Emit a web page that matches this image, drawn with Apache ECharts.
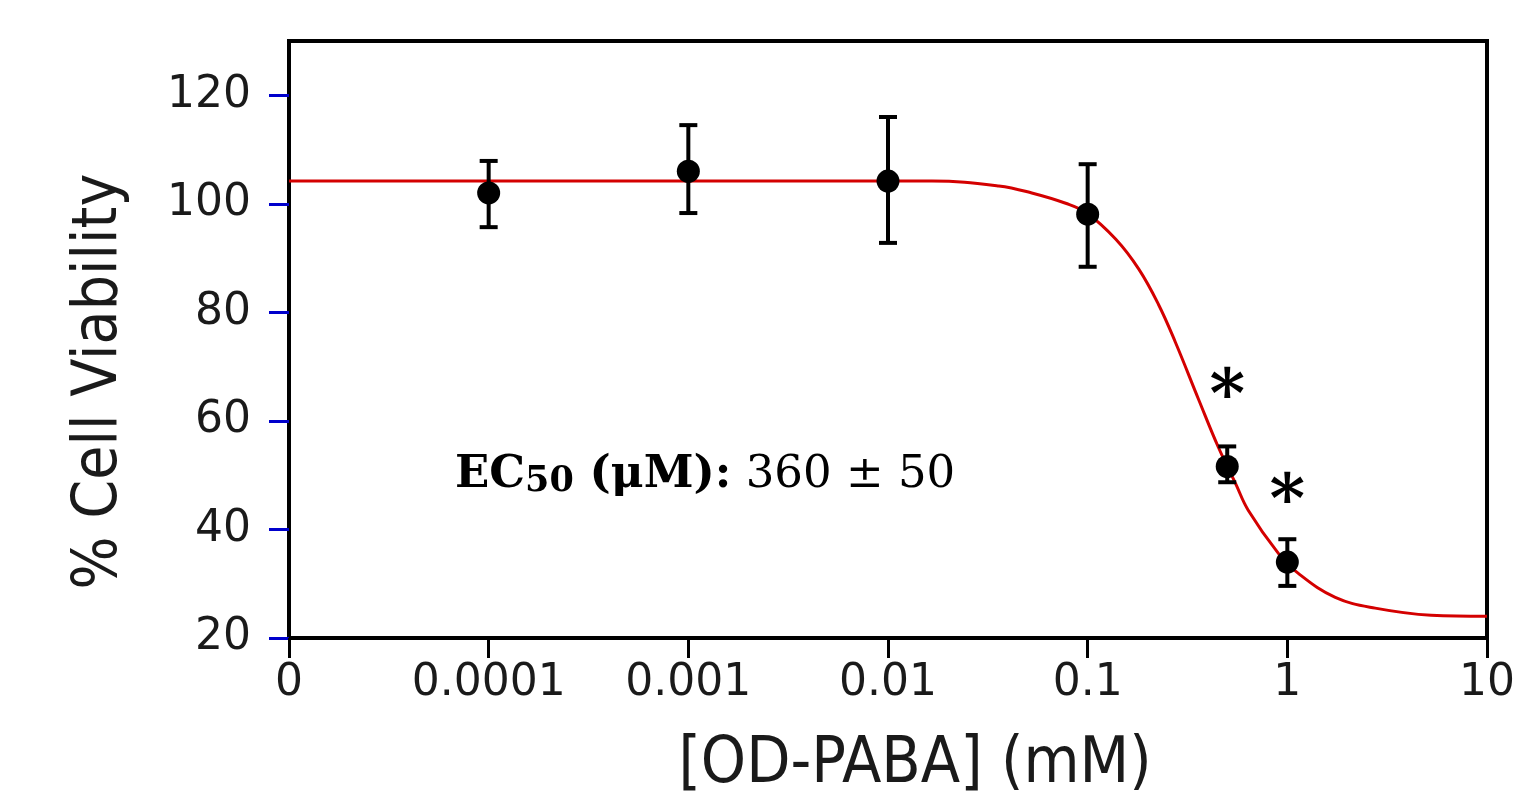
<!DOCTYPE html>
<html>
<head>
<meta charset="utf-8">
<script src="https://cdn.jsdelivr.net/npm/echarts@6/dist/echarts.min.js"></script>
<style>html,body{margin:0;padding:0;background:#fff;}#c{width:1521px;height:797px;}</style>
</head>
<body>
<div id="c"></div>
<script>
// ---- data ----
const xTickValues = [1e-5, 1e-4, 1e-3, 1e-2, 1e-1, 1, 10];
const xTickLabels = ['0', '0.0001', '0.001', '0.01', '0.1', '1', '10'];
const yTickValues = [20, 40, 60, 80, 100, 120];

const concentrations = [0.0001, 0.001, 0.01, 0.1, 0.5, 1];
const viability      = [102.0, 106.0, 104.2, 98.1, 51.6, 34.0];
const errLow         = [95.7, 98.3, 92.8, 88.4, 48.7, 29.6];
const errHigh        = [107.9, 114.5, 116.0, 107.3, 55.3, 38.2];

const fitX = [1e-5, 0.0166, 0.0359, 0.0525, 0.0776, 0.0989, 0.138, 0.180, 0.226, 0.275, 0.359, 0.452, 0.550, 0.638, 0.902, 1.135, 1.738, 2.754, 5.25, 10];
const fitY = [104.2, 104.2, 103.3, 102.0, 100.1, 98.3, 93.5, 88.0, 81.5, 74.5, 64.0, 55.1, 48.5, 43.5, 35.6, 31.9, 27.5, 25.5, 24.2, 24.0];

const asteriskX = [0.5, 1];
const asteriskY = [66.5, 47.2];

const xAxisTitle = '[OD-PABA] (mM)';
const yAxisTitle = '% Cell Viability';

// ---- chart ----
const chart = echarts.init(document.getElementById('c'), null, {renderer: 'canvas'});
const sans = 'DejaVu Sans';
const cond = '"DejaVu Sans Condensed", "DejaVu Sans"';

const option = {
  animation: false,
  backgroundColor: '#ffffff',
  grid: {left: 289, right: 34, top: 41, bottom: 159, show: true, borderColor: '#000', borderWidth: 4,
    backgroundColor: 'transparent', outerBoundsMode: 'none', containLabel: false},
  xAxis: {
    type: 'log', logBase: 10, min: 1e-5, max: 10,
    name: xAxisTitle, nameLocation: 'middle', nameGap: 95,
    nameTextStyle: {fontFamily: cond, fontSize: 64, color: '#1a1a1a', padding: [0, 0, 0, 54]},
    axisLine: {show: true, lineStyle: {color: '#000', width: 4}},
    axisTick: {show: true, inside: false, length: 20, lineStyle: {color: '#000', width: 3}, customValues: xTickValues},
    axisLabel: {show: true, margin: 24, fontFamily: sans, fontSize: 44, color: '#1a1a1a', customValues: xTickValues,
      formatter: v => xTickLabels[Math.round(Math.log10(v)) + 5]},
    splitLine: {show: false}, minorTick: {show: false}
  },
  yAxis: {
    type: 'value', min: 20, max: 130,
    name: yAxisTitle, nameLocation: 'middle', nameGap: 158, nameRotate: 90,
    nameTextStyle: {fontFamily: cond, fontSize: 62, color: '#1a1a1a', padding: [0, 84, 0, 0]},
    axisLine: {show: true, lineStyle: {color: '#000', width: 4}},
    axisTick: {show: true, inside: false, length: 20, lineStyle: {color: '#0000cc', width: 3}, customValues: yTickValues},
    axisLabel: {show: true, margin: 38, fontFamily: sans, fontSize: 44, color: '#1a1a1a', customValues: yTickValues},
    splitLine: {show: false}
  },
  graphic: [{
    type: 'text', left: 455, top: 426, z: 100,
    style: {
      rich: {
        b: {fontFamily: 'DejaVu Serif', fontWeight: 'bold', fontSize: 45, lineHeight: 48, fill: '#000', verticalAlign: 'middle'},
        s: {fontFamily: 'DejaVu Serif', fontWeight: 'bold', fontSize: 35, lineHeight: 35, padding: [38, 0, 0, 0], fill: '#000', verticalAlign: 'bottom'},
        n: {fontFamily: 'DejaVu Serif', fontSize: 45, lineHeight: 48, fill: '#000', verticalAlign: 'middle'}
      },
      text: '{b|EC}{s|50}{b| (μM):}{n| 360 ± 50}'
    }
  }],
  series: [
    {
      type: 'line', name: 'fit', data: fitX.map((x, i) => [x, fitY[i]]),
      showSymbol: false, symbol: 'none', smooth: 0.4,
      lineStyle: {color: '#d40000', width: 3}, z: 2, clip: true
    },
    {
      type: 'custom', name: 'err', z: 3,
      data: concentrations.map((x, i) => [x, errLow[i], errHigh[i]]),
      renderItem: (params, api) => {
        const lo = api.coord([api.value(0), api.value(1)]);
        const hi = api.coord([api.value(0), api.value(2)]);
        const hw = 9;
        const st = {stroke: '#000', lineWidth: 4};
        return {type: 'group', children: [
          {type: 'line', shape: {x1: lo[0], y1: lo[1], x2: hi[0], y2: hi[1]}, style: st},
          {type: 'line', shape: {x1: lo[0] - hw, y1: lo[1], x2: lo[0] + hw, y2: lo[1]}, style: st},
          {type: 'line', shape: {x1: hi[0] - hw, y1: hi[1], x2: hi[0] + hw, y2: hi[1]}, style: st}
        ]};
      }
    },
    {
      type: 'scatter', name: 'mean', z: 4,
      data: concentrations.map((x, i) => [x, viability[i]]),
      symbol: 'circle', symbolSize: 23, itemStyle: {color: '#000', opacity: 1}
    },
    {
      type: 'scatter', name: 'sig', z: 5,
      data: asteriskX.map((x, i) => [x, asteriskY[i]]),
      symbol: 'circle', symbolSize: 2, itemStyle: {color: 'rgba(0,0,0,0)'},
      label: {show: true, position: 'inside', formatter: '*', fontFamily: 'DejaVu Serif', fontWeight: 'bold', fontSize: 68,
        color: '#000', opacity: 1, textBorderWidth: 0, textBorderColor: 'transparent', offset: [0, 14]}
    }
  ]
};
chart.setOption(option);
</script>
</body>
</html>
